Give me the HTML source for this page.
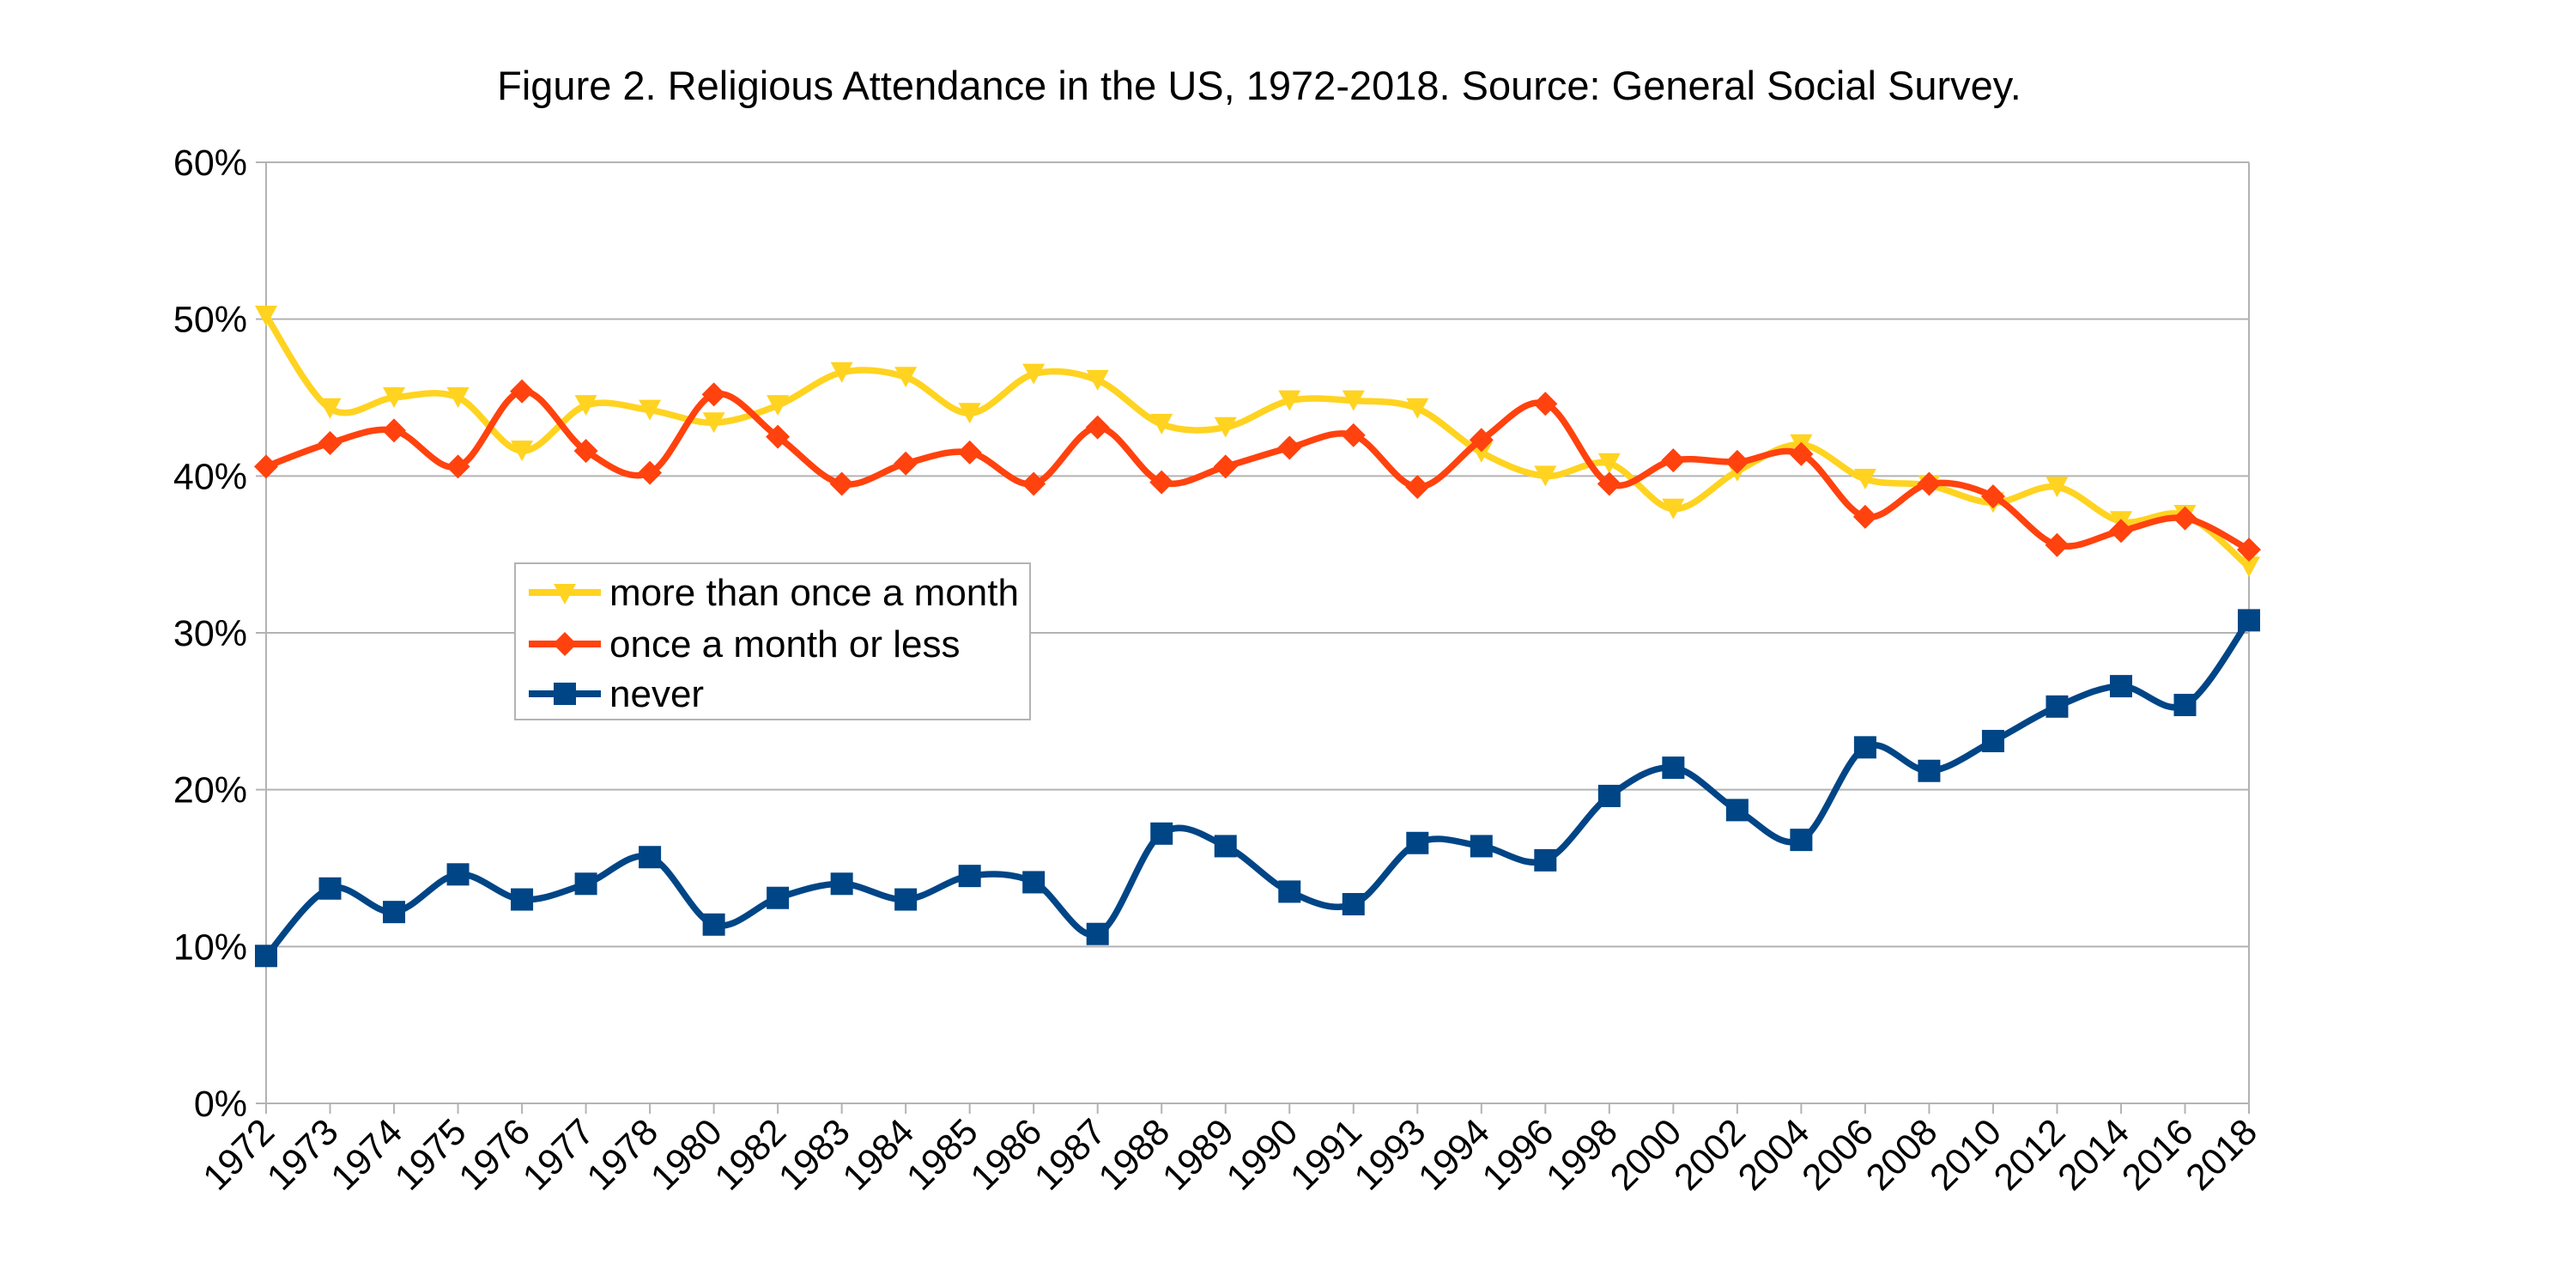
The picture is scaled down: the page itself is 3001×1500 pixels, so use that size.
<!DOCTYPE html>
<html><head><meta charset="utf-8"><style>
html,body{margin:0;padding:0;background:#fff;}
svg{display:block;font-family:"Liberation Sans",sans-serif;}
</style></head><body>
<svg id="chart" width="3001" height="1500" viewBox="0 0 3001 1500">
<text x="1467" y="116" font-size="47" text-anchor="middle" fill="#000">Figure 2. Religious Attendance in the US, 1972-2018. Source: General Social Survey.</text>
<g id="grid"></g><g id="axes"></g><g id="series"></g>
<g>
<rect x="600" y="656" width="600" height="182" fill="#fff" stroke="#b3b3b3" stroke-width="2"/>
<g>
<line x1="616" y1="690" x2="700" y2="690" stroke="#ffd320" stroke-width="8"/>
<path d="M645,680 L671,680 L658,704 Z" fill="#ffd320"/>
<text x="710" y="705" font-size="44">more than once a month</text></g>
<g>
<line x1="616" y1="750" x2="700" y2="750" stroke="#ff420e" stroke-width="8"/>
<path d="M658,736 L672,750 L658,764 L644,750 Z" fill="#ff420e"/>
<text x="710" y="765" font-size="44">once a month or less</text></g>
<g>
<line x1="616" y1="808" x2="700" y2="808" stroke="#004586" stroke-width="8"/>
<rect x="645" y="795" width="26" height="26" fill="#004586"/>
<text x="710" y="823" font-size="44">never</text></g>
</g>
</svg>
<script>
const years=["1972","1973","1974","1975","1976","1977","1978","1980","1982","1983","1984","1985","1986","1987","1988","1989","1990","1991","1993","1994","1996","1998","2000","2002","2004","2006","2008","2010","2012","2014","2016","2018"];
const moreThanOnce=[50.2,44.3,45,45,41.6,44.5,44.2,43.4,44.5,46.6,46.3,44,46.5,46.1,43.3,43.1,44.8,44.8,44.3,41.5,40,40.8,37.9,40.3,42,39.8,39.4,38.3,39.3,37.1,37.5,34.2];
const onceOrLess=[40.6,42.1,42.9,40.6,45.4,41.6,40.2,45.2,42.5,39.5,40.8,41.5,39.5,43.1,39.6,40.6,41.8,42.6,39.3,42.3,44.6,39.5,41,40.9,41.4,37.4,39.5,38.7,35.6,36.5,37.3,35.3];
const never=[9.4,13.7,12.2,14.6,13,14,15.7,11.4,13.1,14,13,14.5,14.1,10.8,17.2,16.4,13.5,12.7,16.6,16.4,15.5,19.6,21.4,18.7,16.8,22.7,21.2,23.1,25.3,26.6,25.4,30.8];
const yTicks=[0,10,20,30,40,50,60];
const NS="http://www.w3.org/2000/svg";
const L=310,R=2620,T=189,B=1285;
const xs=i=>L+(R-L)*i/(years.length-1);
const ys=v=>B-(B-T)*v/60;
function mk(tag,attrs,parent){const e=document.createElementNS(NS,tag);for(const k in attrs)e.setAttribute(k,attrs[k]);parent.appendChild(e);return e;}
const grid=document.getElementById('grid'),axes=document.getElementById('axes'),ser=document.getElementById('series');
yTicks.forEach(t=>{
  const g=mk('line',{x1:L-12,x2:R,y1:ys(t),y2:ys(t),stroke:'#b3b3b3','stroke-width':2},grid);
  
  
  const tx=mk('text',{x:L-22,y:ys(t)+15,'font-size':43,'text-anchor':'end'},axes);
  tx.textContent=t+'%';
  
  
});
mk('line',{x1:L,x2:L,y1:T,y2:B,stroke:'#b3b3b3','stroke-width':2},grid);
mk('line',{x1:R,x2:R,y1:T,y2:B,stroke:'#b3b3b3','stroke-width':2},grid);
years.forEach((y,i)=>{
  mk('line',{x1:xs(i),x2:xs(i),y1:B,y2:B+12,stroke:'#b3b3b3','stroke-width':2},grid);
  const tx=mk('text',{x:xs(i)+12,y:B+36,'font-size':43,'text-anchor':'end',transform:`rotate(-45 ${xs(i)+12} ${B+36})`},axes);
  tx.textContent=y;
  
  
});
function spline(vals){
  const p=vals.map((v,i)=>[xs(i),ys(v)]);
  let d=`M${p[0][0]},${p[0][1]}`;
  for(let i=0;i<p.length-1;i++){
    const p0=p[Math.max(0,i-1)],p1=p[i],p2=p[i+1],p3=p[Math.min(p.length-1,i+2)];
    const c1=[p1[0]+(p2[0]-p0[0])/6,p1[1]+(p2[1]-p0[1])/6];
    const c2=[p2[0]-(p3[0]-p1[0])/6,p2[1]-(p3[1]-p1[1])/6];
    d+=` C${c1[0]},${c1[1]} ${c2[0]},${c2[1]} ${p2[0]},${p2[1]}`;
  }
  return d;
}
function draw(vals,color,shape,name){
  const g=mk('g',{},ser);
  
  
  const path=mk('path',{d:spline(vals),fill:'none',stroke:color,'stroke-width':7.5},g);
  
  
  vals.forEach((v,i)=>{
    const x=xs(i),y=ys(v);let m;
    if(shape==='tri')m=mk('path',{d:`M${x-13},${y-12} L${x+13},${y-12} L${x},${y+12} Z`,fill:color},g);
    else if(shape==='dia')m=mk('path',{d:`M${x},${y-14} L${x+14},${y} L${x},${y+14} L${x-14},${y} Z`,fill:color},g);
    else m=mk('rect',{x:x-13,y:y-13,width:26,height:26,fill:color},g);
    
    
  });
}
draw(moreThanOnce,'#ffd320','tri','more-than-once');
draw(onceOrLess,'#ff420e','dia','once-or-less');
draw(never,'#004586','sq','never');
</script>
</body></html>
